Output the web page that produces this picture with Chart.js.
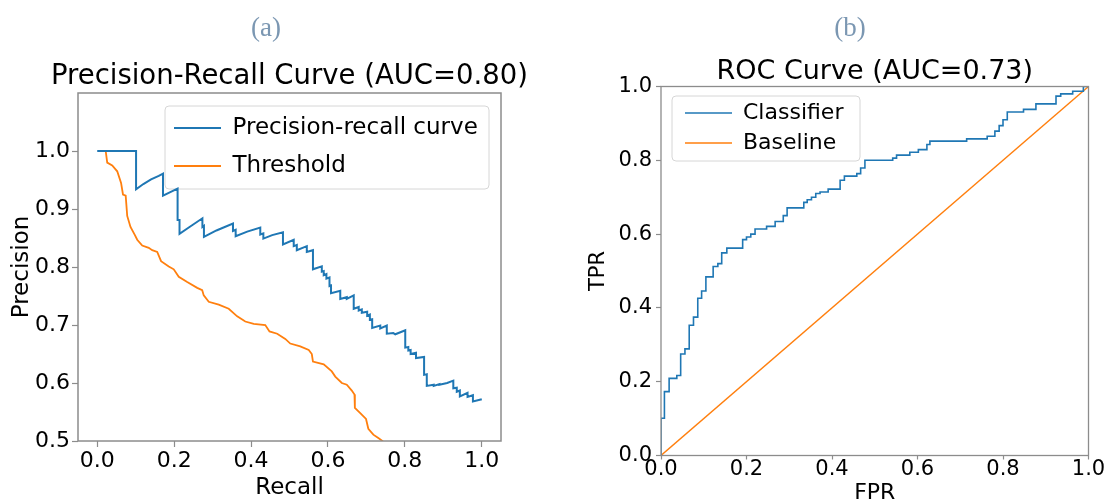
<!DOCTYPE html>
<html>
<head>
<meta charset="utf-8">
<script src="https://cdn.jsdelivr.net/npm/chart.js@4.4.0/dist/chart.umd.min.js"></script>
<style>
    body { margin: 0; background: #fff; }
    #wrap { position: relative; width: 1113px; height: 502px; }
    canvas { position: absolute; top: 0; }
    .cap {
        position: absolute; top: 10px; width: 100px; text-align: center;
        font: 27px "Liberation Serif", serif; line-height: 34px; color: #7b97b2;
    }
</style>
</head>
<body>
<div id="wrap">
    <canvas id="prChart" width="560" height="502" style="left:0"></canvas>
    <canvas id="rocChart" width="553" height="502" style="left:560px"></canvas>
    <div class="cap" style="left:216px">(a)</div>
    <div class="cap" style="left:800px">(b)</div>
</div>
<script>
// (a) precision-recall curve vertices
var recall = [0.0, 0.101, 0.101, 0.12, 0.14, 0.16, 0.171, 0.171, 0.19, 0.209, 0.209, 0.214, 0.214, 0.24, 0.2735, 0.2735, 0.2775, 0.2775, 0.31, 0.353, 0.353, 0.36, 0.36, 0.39, 0.424, 0.424, 0.432, 0.432, 0.455, 0.483, 0.483, 0.511, 0.511, 0.519, 0.519, 0.545, 0.545, 0.561, 0.561, 0.584, 0.584, 0.589, 0.589, 0.596, 0.596, 0.604, 0.604, 0.608, 0.608, 0.632, 0.632, 0.649, 0.649, 0.667, 0.667, 0.68, 0.68, 0.688, 0.688, 0.702, 0.702, 0.709, 0.709, 0.715, 0.715, 0.736, 0.736, 0.753, 0.753, 0.77, 0.775, 0.79, 0.801, 0.801, 0.809, 0.809, 0.815, 0.815, 0.829, 0.829, 0.85, 0.85, 0.857, 0.857, 0.875, 0.875, 0.89, 0.89, 0.91, 0.926, 0.926, 0.935, 0.935, 0.943, 0.943, 0.963, 0.963, 0.977, 0.977, 1.0];
var precision = [1.0, 1.0, 0.934, 0.943, 0.951, 0.957, 0.961, 0.923, 0.929, 0.935, 0.881, 0.881, 0.857, 0.869, 0.884, 0.869, 0.871, 0.852, 0.863, 0.875, 0.862, 0.864, 0.853, 0.861, 0.868, 0.856, 0.858, 0.849, 0.855, 0.86, 0.839, 0.847, 0.836, 0.838, 0.829, 0.836, 0.826, 0.829, 0.796, 0.801, 0.792, 0.793, 0.786, 0.788, 0.78, 0.782, 0.767, 0.768, 0.755, 0.759, 0.745, 0.748, 0.745, 0.751, 0.728, 0.731, 0.725, 0.727, 0.721, 0.723, 0.716, 0.718, 0.709, 0.71, 0.695, 0.699, 0.694, 0.699, 0.685, 0.686, 0.684, 0.688, 0.691, 0.661, 0.662, 0.656, 0.657, 0.65, 0.652, 0.643, 0.645, 0.614, 0.615, 0.595, 0.597, 0.595, 0.598, 0.597, 0.6, 0.604, 0.591, 0.592, 0.585, 0.587, 0.577, 0.583, 0.576, 0.579, 0.568, 0.572];
var thrRecall = [0.01, 0.022, 0.026, 0.039, 0.052, 0.062, 0.067, 0.074, 0.078, 0.0865, 0.098, 0.104, 0.117, 0.134, 0.143, 0.156, 0.166, 0.186, 0.199, 0.212, 0.234, 0.26, 0.273, 0.277, 0.29, 0.316, 0.342, 0.364, 0.385, 0.407, 0.437, 0.448, 0.468, 0.489, 0.502, 0.528, 0.55, 0.558, 0.561, 0.589, 0.61, 0.619, 0.636, 0.649, 0.662, 0.669, 0.67, 0.684, 0.699, 0.705, 0.718, 0.731, 0.742, 0.75];
var threshold = [1.0, 1.0, 0.98, 0.975, 0.965, 0.945, 0.925, 0.923, 0.888, 0.869, 0.855, 0.847, 0.837, 0.833, 0.829, 0.826, 0.81, 0.801, 0.796, 0.783, 0.774, 0.764, 0.76, 0.751, 0.74, 0.735, 0.728, 0.715, 0.706, 0.702, 0.70, 0.689, 0.685, 0.676, 0.668, 0.663, 0.657, 0.65, 0.637, 0.632, 0.62, 0.611, 0.60, 0.597, 0.587, 0.58, 0.557, 0.548, 0.538, 0.521, 0.511, 0.505, 0.50, 0.49];

// (b) ROC staircase: tpr is the level reached at each fpr
var fpr = [0, 0, 0.008, 0.019, 0.037, 0.046, 0.056, 0.066, 0.076, 0.086, 0.095, 0.105, 0.122, 0.133, 0.142, 0.154, 0.191, 0.2, 0.21, 0.22, 0.247, 0.267, 0.286, 0.295, 0.334, 0.342, 0.352, 0.362, 0.372, 0.391, 0.419, 0.429, 0.458, 0.467, 0.477, 0.542, 0.551, 0.582, 0.602, 0.622, 0.629, 0.715, 0.763, 0.781, 0.791, 0.80, 0.81, 0.848, 0.877, 0.924, 0.935, 0.963, 0.988, 1.0];
var tpr = [0, 0.101, 0.173, 0.209, 0.217, 0.275, 0.289, 0.353, 0.375, 0.426, 0.446, 0.484, 0.512, 0.52, 0.549, 0.562, 0.585, 0.592, 0.60, 0.614, 0.621, 0.634, 0.65, 0.671, 0.686, 0.693, 0.70, 0.71, 0.714, 0.722, 0.746, 0.757, 0.764, 0.779, 0.80, 0.806, 0.814, 0.822, 0.829, 0.843, 0.852, 0.858, 0.865, 0.879, 0.894, 0.91, 0.931, 0.938, 0.953, 0.974, 0.98, 0.987, 1.0, 1.0];
var baseX = [0, 1];
var baseY = [0, 1];

var prXTicks = [0.0, 0.2, 0.4, 0.6, 0.8, 1.0];
var prYTicks = [0.5, 0.6, 0.7, 0.8, 0.9, 1.0];
var rocTicks = [0.0, 0.2, 0.4, 0.6, 0.8, 1.0];

function points(xs, ys) {
    return xs.map(function (x, i) { return { x: x, y: ys[i] }; });
}
function fixTicks(list) {
    return function (scale) {
        scale.ticks = list.map(function (v) { return { value: v }; });
    };
}
function fmt(v) {
    return Number(v).toFixed(1);
}

Chart.defaults.font.family = "'DejaVu Sans', sans-serif";
Chart.defaults.color = "#000";

// matplotlib-like frame + legend box
var framePlugin = {
    id: "frame",
    afterLayout: function (chart, args, opts) {
        var a = chart.chartArea;
        var lg = chart.legend;
        lg.left = a.left + opts.legendAt[0];
        lg.top = a.top + opts.legendAt[1];
        lg.width = opts.box[2];
        lg.height = opts.box[3] + 40;
        lg.right = lg.left + lg.width;
        lg.bottom = lg.top + lg.height;
    },
    beforeDraw: function (chart, args, opts) {
        var a = chart.chartArea;
        var ctx = chart.ctx;
        var b = opts.box;
        ctx.save();
        ctx.beginPath();
        if (ctx.roundRect) {
            ctx.roundRect(a.left + b[0], a.top + b[1], b[2], b[3], 4);
        } else {
            ctx.rect(a.left + b[0], a.top + b[1], b[2], b[3]);
        }
        ctx.fillStyle = "rgba(255,255,255,0.8)";
        ctx.fill();
        ctx.strokeStyle = "#d6d6d6";
        ctx.lineWidth = 1;
        ctx.stroke();
        ctx.restore();
    },
    afterDatasetsDraw: function (chart, args, opts) {
        var a = chart.chartArea;
        var ctx = chart.ctx;
        ctx.save();
        ctx.strokeStyle = "#8c8c8c";
        ctx.lineWidth = opts.spine;
        ctx.strokeRect(a.left, a.top, a.right - a.left, a.bottom - a.top);
        ctx.restore();
    }
};

var prChart = new Chart(document.getElementById("prChart").getContext("2d"), {
    type: "line",
    data: {
        datasets: [
            {
                label: "Precision-recall curve",
                data: points(recall, precision),
                borderColor: "#1f77b4",
                borderWidth: 2,
                pointRadius: 0,
            },
            {
                label: "Threshold",
                data: points(thrRecall, threshold),
                borderColor: "#ff7f0e",
                borderWidth: 1.8,
                pointRadius: 0,
            },
        ],
    },
    plugins: [framePlugin],
    options: {
        responsive: false,
        animation: false,
        events: [],
        devicePixelRatio: 1,
        layout: { padding: { left: 31, right: 12, top: 0, bottom: 0 } },
        scales: {
            x: {
                type: "linear",
                min: -0.05,
                max: 1.05,
                afterBuildTicks: fixTicks(prXTicks),
                afterFit: function (s) { s.height = 61; s.paddingLeft = 0; s.paddingRight = 0; },
                border: { display: false },
                grid: { drawOnChartArea: false, tickLength: 6, color: "#8c8c8c", tickWidth: 1.2 },
                ticks: { font: { size: 22 }, padding: 1, maxRotation: 0, minRotation: 0, autoSkip: false, callback: fmt },
                title: { display: true, text: "Recall", font: { size: 23 }, padding: { top: 0, bottom: 0 } },
            },
            y: {
                min: 0.5,
                max: 1.1,
                afterBuildTicks: fixTicks(prYTicks),
                afterFit: function (s) { s.width = 47; s.paddingTop = 0; s.paddingBottom = 0; },
                border: { display: false },
                grid: { drawOnChartArea: false, tickLength: 6, color: "#8c8c8c", tickWidth: 1.2 },
                ticks: { font: { size: 22 }, padding: 2, autoSkip: false, callback: fmt },
                title: { display: true, text: "Precision", font: { size: 23 }, padding: { top: -23, bottom: 0 } },
            },
            // empty right-hand axis, only keeps room so the title can run past the plot
            spacer: {
                type: "linear",
                position: "right",
                ticks: { display: false },
                grid: { display: false },
                border: { display: false },
                afterFit: function (s) { s.width = 47; s.paddingTop = 0; s.paddingBottom = 0; },
            },
        },
        plugins: {
            title: {
                display: true,
                text: "Precision-Recall Curve (AUC=0.80)",
                color: "#000",
                font: { size: 27.5, weight: "normal", lineHeight: 1 },
                padding: { top: 63, bottom: 2.5 },
            },
            legend: {
                position: "chartArea",
                align: "start",
                labels: {
                    usePointStyle: true,
                    pointStyle: "line",
                    pointStyleWidth: 47,
                    padding: 15,
                    color: "#000",
                    font: { size: 23 },
                },
            },
            tooltip: { enabled: false },
            frame: { box: [87, 13, 324, 83], legendAt: [81, 8.5], spine: 1.5 },
        },
    },
});

var rocChart = new Chart(document.getElementById("rocChart").getContext("2d"), {
    type: "line",
    data: {
        datasets: [
            {
                label: "Classifier",
                data: points(fpr, tpr),
                stepped: "before",
                borderColor: "#1f77b4",
                borderWidth: 1.6,
                pointRadius: 0,
            },
            {
                label: "Baseline",
                data: points(baseX, baseY),
                borderColor: "#ff7f0e",
                borderWidth: 1.4,
                pointRadius: 0,
            },
        ],
    },
    plugins: [framePlugin],
    options: {
        responsive: false,
        animation: false,
        events: [],
        devicePixelRatio: 1,
        layout: { padding: { left: 51.5, right: 24.5, top: 0, bottom: 0 } },
        scales: {
            x: {
                type: "linear",
                min: 0,
                max: 1,
                afterBuildTicks: fixTicks(rocTicks),
                afterFit: function (s) { s.height = 46.5; s.paddingLeft = 0; s.paddingRight = 0; },
                border: { display: false },
                grid: { drawOnChartArea: false, tickLength: 4, color: "#8c8c8c", tickWidth: 1.2 },
                ticks: { font: { size: 21, lineHeight: 1 }, padding: 0, maxRotation: 0, minRotation: 0, autoSkip: false, callback: fmt },
                title: { display: true, text: "FPR", font: { size: 22, lineHeight: 1 }, padding: { top: 0, bottom: -2 } },
            },
            y: {
                min: 0,
                max: 1,
                afterBuildTicks: fixTicks(rocTicks),
                afterFit: function (s) { s.width = 49.5; s.paddingTop = 0; s.paddingBottom = 0; },
                border: { display: false },
                grid: { drawOnChartArea: false, tickLength: 5, color: "#8c8c8c", tickWidth: 1.2 },
                ticks: { font: { size: 21 }, padding: 4, autoSkip: false, callback: fmt },
                title: { display: true, text: "TPR", font: { size: 21 }, padding: { top: -26, bottom: 0 } },
            },
        },
        plugins: {
            title: {
                display: true,
                fullSize: false,
                text: "ROC Curve (AUC=0.73)",
                color: "#000",
                font: { size: 27, weight: "normal", lineHeight: 1 },
                padding: { top: 58.5, bottom: 1 },
            },
            legend: {
                position: "chartArea",
                align: "start",
                labels: {
                    usePointStyle: true,
                    pointStyle: "line",
                    pointStyleWidth: 47,
                    padding: 8,
                    color: "#000",
                    font: { size: 22 },
                },
            },
            tooltip: { enabled: false },
            frame: { box: [11, 9.5, 188, 65], legendAt: [16, 7.5], spine: 1.3 },
        },
    },
});
</script>
</body>
</html>
